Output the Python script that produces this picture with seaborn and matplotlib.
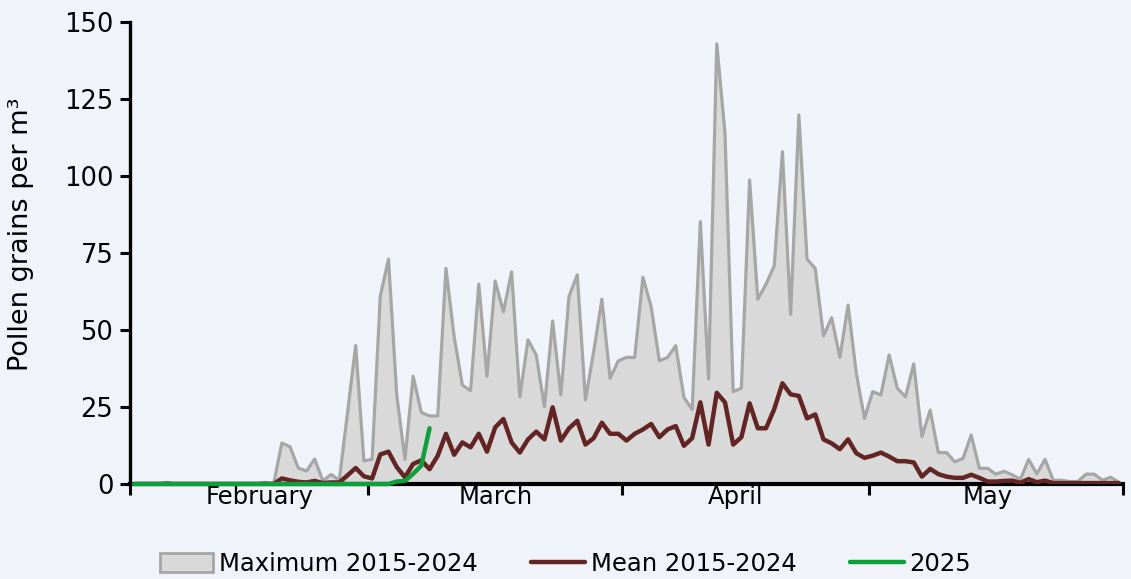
import numpy as np
import pandas as pd
import matplotlib
matplotlib.use('Agg')
import matplotlib.pyplot as plt
import seaborn as sns
from matplotlib.patches import Patch
from matplotlib.lines import Line2D

# daily values, 1 Feb .. 31 May (Feb drawn with 29 days)
max_vals = [0, 0, 0, 0, 0.5, 0, 0, 0, 0, 0, 0, 0, 0, 0, 0, 0, 0.5, 0,
            13.3, 12.1, 5.2, 4.2, 8.1, 1.0, 3.1, 1.2, 23, 45, 7.5, 8,
            61, 73, 29, 8, 35, 23.2, 22.1, 22.1, 70, 47.8,
            32.1, 30.3, 64.9, 35, 65.9, 55.9, 68.9, 28.3, 46.8, 41.9,
            25.1, 52.9, 28.9, 61, 67.9, 27.3, 43, 60, 34.3, 40,
            41.1, 41.1, 67.1, 57.6, 40, 41.1, 44.9, 28.1, 24.2, 85.2,
            34.1, 142.9, 113.9, 30, 31.1, 98.7, 60, 64.9, 70.8, 107.9,
            55.1, 119.8, 73, 70, 48.1, 54, 41.1, 58.1, 36, 21.3,
            30, 28.9, 41.9, 31.1, 28.3, 39, 15.4, 24, 10.2, 10.2,
            7.2, 8.3, 15.9, 5.1, 5.1, 3.2, 4.1, 3.0, 1.5, 8.0,
            3.3, 8.0, 1.2, 1.2, 0.8, 0.8, 3.2, 3.2, 1.2, 2.2, 0.5]

mean_vals = [0, 0, 0, 0, 0.05, 0, 0, 0, 0, 0, 0, 0, 0, 0, 0, 0, 0.05, 0,
             1.8, 1.2, 0.7, 0.5, 1.0, 0.3, 0.5, 0.5, 2.8, 5.2, 2.5, 1.8,
             9.6, 10.5, 5.5, 2.2, 6.5, 7.7, 4.8, 9.2, 16.3, 9.5,
             13.5, 11.9, 16.3, 10.5, 18.4, 21.1, 13.5, 10.2, 14.5, 17,
             14.5, 24.9, 14.1, 18.1, 20.5, 12.8, 14.9, 19.9, 16.3, 16.3,
             14.1, 16.3, 17.7, 19.5, 15.2, 17.7, 18.8, 12.4, 14.9, 26.5,
             12.8, 29.6, 26.5, 12.8, 15.2, 26.2, 18.1, 18.1, 24.3, 32.7,
             29.1, 28.6, 21.3, 22.6, 14.5, 13.2, 11.3, 14.5, 10, 8.5,
             9.2, 10.2, 8.9, 7.4, 7.4, 7.0, 2.4, 4.9, 3.2, 2.4,
             2.0, 2.0, 3.0, 2.0, 0.8, 0.8, 1.0, 1.1, 0.4, 1.6,
             0.6, 1.1, 0.3, 0.3, 0.3, 0.3, 0.3, 0.3, 0.3, 0.3, 0.3]

vals_2025 = [0] * 32 + [0.8, 1.0, 3.3, 6.0, 18.1]

month_names = ['February', 'March', 'April', 'May']
month_days = [29, 31, 30, 31]
label_pos = [15.3, 44.0, 73.3, 104.0]

df = pd.DataFrame({'day': np.arange(len(max_vals)), 'max': max_vals, 'mean': mean_vals})
df25 = pd.DataFrame({'day': np.arange(len(vals_2025)), 'value': vals_2025})

bg = '#F0F4FA'
grey_fill = '#D9D9D9'
grey_line = '#A6A6A6'
red = '#632523'
green = '#0E9F3A'

sns.set_theme(style='white')
plt.rcParams['font.family'] = ['DejaVu Sans']
plt.rcParams['text.color'] = 'black'
plt.rcParams['axes.labelcolor'] = 'black'
plt.rcParams['xtick.color'] = 'black'
plt.rcParams['ytick.color'] = 'black'

fig = plt.figure(figsize=(11.31, 5.79), dpi=100, facecolor=bg)
ax = fig.add_axes([130 / 1131, 1 - 484 / 579, 993 / 1131, 462 / 579])
ax.set_facecolor(bg)

ax.fill_between(df['day'], df['max'], color=grey_fill, lw=0, zorder=1)
sns.lineplot(data=df, x='day', y='max', color=grey_line, lw=2.3, ax=ax, zorder=2)
sns.lineplot(data=df, x='day', y='mean', color=red, lw=3.2, ax=ax, zorder=3)
sns.lineplot(data=df25, x='day', y='value', color=green, lw=3.2, ax=ax, zorder=4, clip_on=False)

ax.set_xlim(-0.5, len(max_vals) - 0.5)
ax.set_ylim(0, 150)
ax.set_yticks(np.arange(0, 151, 25))

bounds = np.concatenate([[0], np.cumsum(month_days)]) - 0.5
ax.set_xticks(bounds)
ax.set_xticklabels([])
ax.set_xticks(label_pos, minor=True)
ax.set_xticklabels(month_names, minor=True)
ax.tick_params(axis='x', which='major', direction='out', length=8, width=2.2, color='black', bottom=True)
ax.tick_params(axis='x', which='minor', length=0, pad=1, labelsize=17.5, labelcolor='black', bottom=True)
ax.tick_params(axis='y', direction='out', length=7, width=2.2, color='black', pad=5,
               labelsize=18.5, labelcolor='black', left=True)

for side in ['top', 'right']:
    ax.spines[side].set_visible(False)
ax.spines['left'].set_color('black')
ax.spines['left'].set_linewidth(2.4)
ax.spines['bottom'].set_color('black')
ax.spines['bottom'].set_linewidth(3)

ax.set_xlabel('')
ax.set_ylabel('Pollen grains per m³', fontsize=19.5, color='black')
ax.yaxis.set_label_coords(-0.097, 0.54)

handles = [Patch(facecolor=grey_fill, edgecolor=grey_line, lw=2),
           Line2D([], [], color=red, lw=3.2),
           Line2D([], [], color=green, lw=3.2)]
labels = ['Maximum 2015-2024', 'Mean 2015-2024', '2025']
leg = fig.legend(handles, labels, loc='lower center', bbox_to_anchor=(0.5, -0.032), ncol=3,
                 frameon=False, fontsize=17.5, handlelength=2.2, handleheight=0.85,
                 handletextpad=0.25, columnspacing=2.2)
for t in leg.get_texts():
    t.set_color('black')

fig.savefig('out.png', dpi=100, facecolor=bg)
